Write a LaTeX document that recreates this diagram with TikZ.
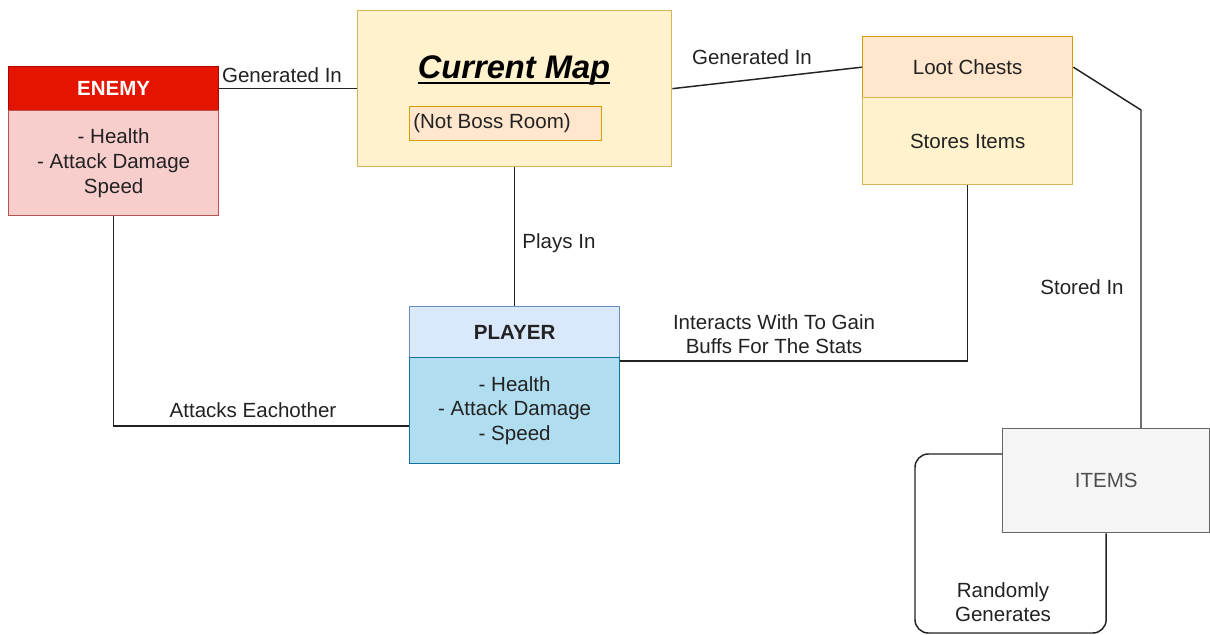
\documentclass[tikz,border=0pt]{standalone}
\usepackage{fontspec}
\setmainfont{Liberation Sans}
\usetikzlibrary{calc}
\definecolor{redfill}{HTML}{E51400}
\definecolor{redline}{HTML}{B20000}
\definecolor{pinkfill}{HTML}{F8CECC}
\definecolor{pinkline}{HTML}{B85450}
\definecolor{yelfill}{HTML}{FFF2CC}
\definecolor{yelline}{HTML}{D6B656}
\definecolor{orfill}{HTML}{FFE6CC}
\definecolor{orline}{HTML}{D79B00}
\definecolor{bluefill}{HTML}{DAE8FC}
\definecolor{blueline}{HTML}{6C8EBF}
\definecolor{cyanfill}{HTML}{B1DDF0}
\definecolor{cyanline}{HTML}{10739E}
\definecolor{grayfill}{HTML}{F5F5F5}
\definecolor{grayline}{HTML}{666666}
\definecolor{txt}{HTML}{222222}
\def\px{0.75pt}
\tikzset{
  box/.style={draw, line width=1pt, anchor=north west, inner sep=0pt,
    align=center, text=txt, font=\fontsize{15.4}{18.4}\selectfont},
  conn/.style={draw=txt, line width=1.1pt},
  lbl/.style={text=txt, font=\fontsize{15.4}{18.4}\selectfont, inner sep=0pt, align=center}
}
\begin{document}
\begin{tikzpicture}[x=0.75pt, y=-0.75pt]
\useasboundingbox (0,0) rectangle (1210,635);

% ENEMY
\node[box, fill=redfill, draw=redline, text=white, font=\fontsize{15.4}{18.4}\selectfont\bfseries,
  minimum width=210*\px, minimum height=44*\px] (enemyH) at (8,66) {ENEMY};
\node[box, fill=pinkfill, draw=pinkline, minimum width=210*\px, minimum height=105*\px]
  (enemyB) at (8,110) {- Health\\- Attack Damage\\Speed};

% Current map
\node[box, fill=yelfill, draw=yelline, minimum width=314*\px, minimum height=156*\px]
  (map) at (357,10) {};
\node[lbl, anchor=base, font=\fontsize{24.5}{28}\selectfont\bfseries\itshape, text=black]
  (maptitle) at (514,79) {Current Map};
\draw[line width=1.2pt, black] ($(maptitle.base west)+(0,4)$) -- ($(maptitle.base east)+(0,4)$);
\node[box, fill=orfill, draw=orline, minimum width=192*\px, minimum height=34*\px]
  (boss) at (409,106) {};
\node[lbl, anchor=west] (bosstext) at (413,123) {(Not Boss Room)};

% Loot chests
\node[box, fill=orfill, draw=orline, minimum width=210*\px, minimum height=61*\px]
  (lootH) at (862,36) {Loot Chests};
\node[box, fill=yelfill, draw=yelline, minimum width=210*\px, minimum height=87*\px]
  (lootB) at (862,97) {Stores Items};

% PLAYER
\node[box, fill=bluefill, draw=blueline, font=\fontsize{15.4}{18.4}\selectfont\bfseries,
  minimum width=210*\px, minimum height=51*\px] (playerH) at (409,306) {PLAYER};
\node[box, fill=cyanfill, draw=cyanline, minimum width=210*\px, minimum height=106*\px]
  (playerB) at (409,357) {- Health\\- Attack Damage\\- Speed};

% ITEMS
\node[box, fill=grayfill, draw=grayline, text=txt!80, minimum width=207*\px, minimum height=104*\px]
  (items) at (1002,428) {ITEMS};

% Connectors
\draw[conn] (enemyH.east) -- (enemyH.east -| map.west);
\node[lbl] (l1) at (282,75) {Generated In};

\draw[conn] (map.east) -- (lootH.west);
\node[lbl] (l2) at (752,57) {Generated In};

\draw[conn] (map.south) -- (playerH.north);
\node[lbl] (l3) at (559,243) {Plays In};

\coordinate (pr) at ($(playerB.north east)+(0,4)$);
\draw[conn] (pr) -| (lootB.south);
\node[lbl] (l4) at (774,334) {Interacts With To Gain\\ Buffs For The Stats};

\coordinate (pl) at ($(playerB.north west)+(0,69)$);
\draw[conn] (enemyB.south) |- (pl);
\node[lbl] (l5) at (253,410) {Attacks Eachother};

\coordinate (bend) at (1141,110);
\draw[conn] (lootH.east) -- (bend) -- (bend |- items.north);
\node[lbl] (l6) at (1082,287) {Stored In};

\coordinate (ia) at ($(items.north west)+(0,26)$);
\coordinate (loopBL) at (915,633);
\draw[conn, rounded corners=10pt] (ia) -| (loopBL) -| (items.south);
\node[lbl] (l7) at (1003,602) {Randomly\\Generates};

\end{tikzpicture}
\end{document}
